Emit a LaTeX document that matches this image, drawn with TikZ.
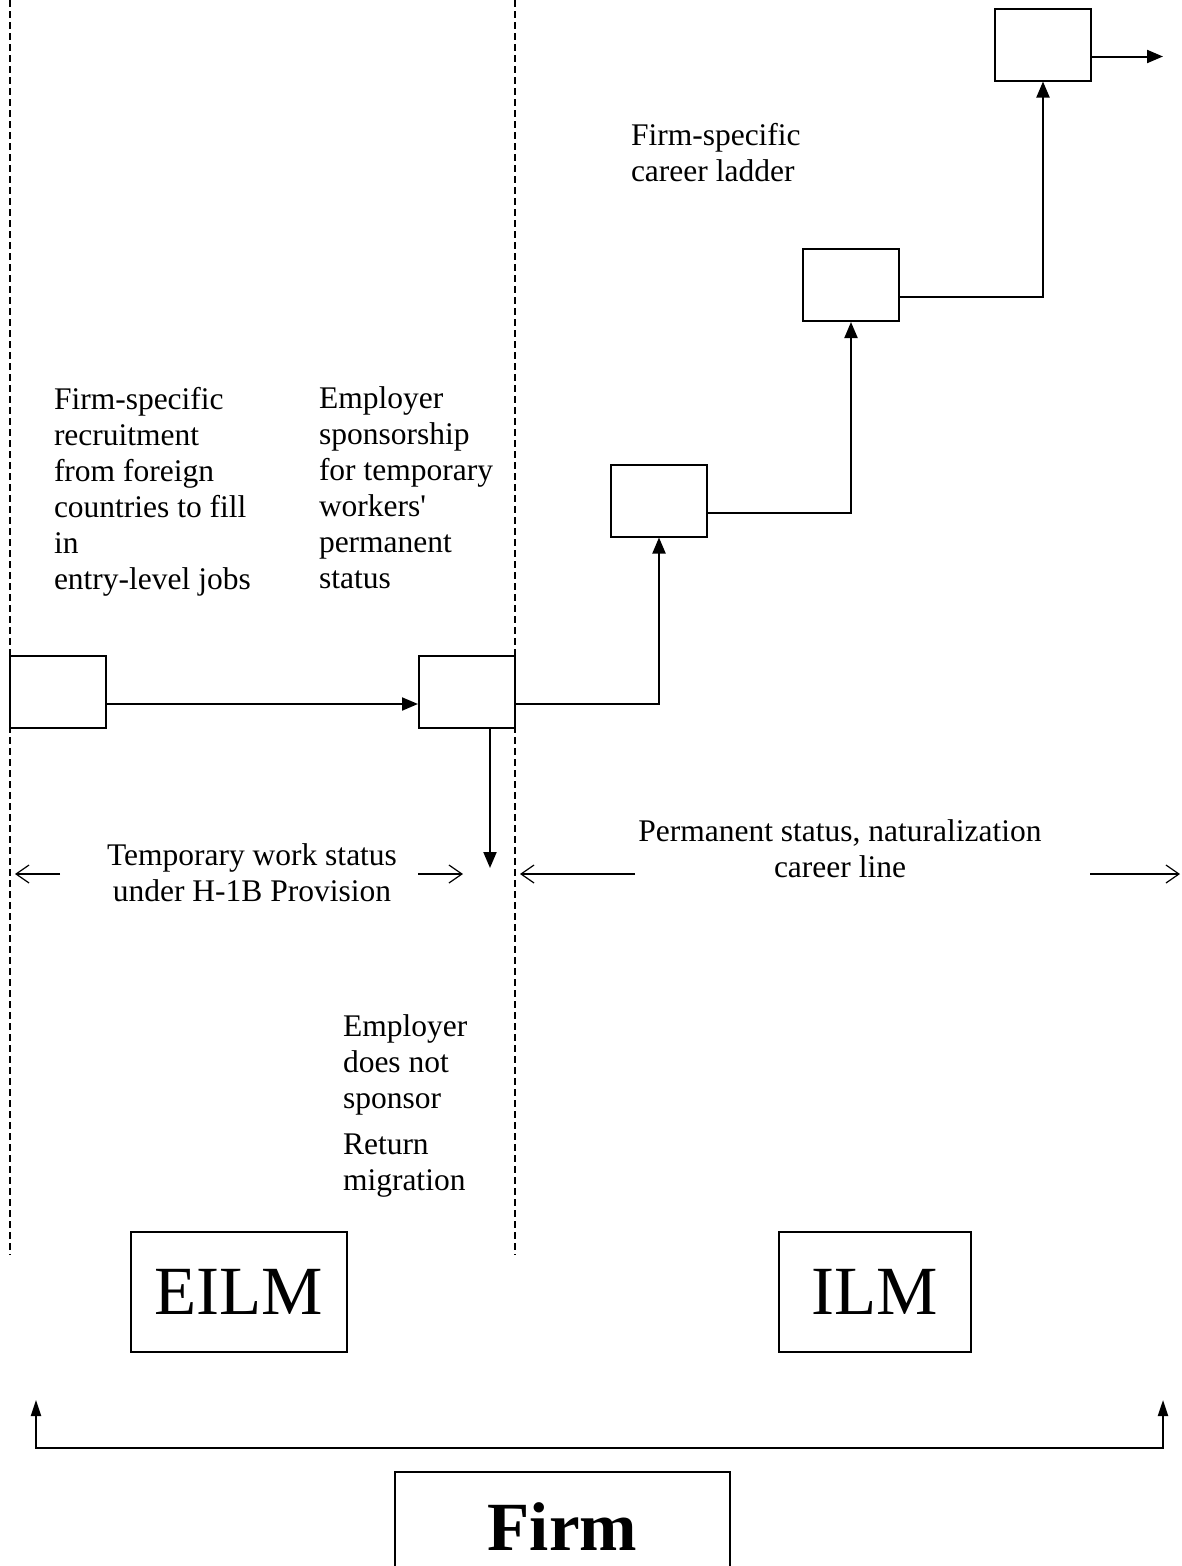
\documentclass[tikz,border=0pt]{standalone}
\usepackage{fontspec}
\setmainfont{Liberation Serif}
\usetikzlibrary{arrows.meta}
\begin{document}
\begin{tikzpicture}[x=1pt,y=-1pt,line width=2pt,
  cell/.style={draw,minimum width=96pt,minimum height=72pt,inner sep=0pt},
  lbl/.style={align=left,anchor=north west,inner sep=0pt,font=\fontsize{31.5}{36}\selectfont},
  midlbl/.style={align=center,inner sep=0pt,font=\fontsize{31.5}{36}\selectfont},
  big/.style={draw,inner sep=0pt,font=\fontsize{69}{80}\selectfont},
  fence/.style={line width=1.3pt,dash pattern=on 7pt off 4pt},
  up/.style={-{Triangle[length=16pt,width=13pt]}},
  span/.style={line width=1.2pt,-{Straight Barb[length=13pt,width=18pt]}}]
\useasboundingbox (0,0) rectangle (1182,1566);
% dividers
\draw[fence] (10,0) -- (10,1255);
\draw[fence] (515,0) -- (515,1255);
% job ladder
\node[cell] (a) at (58,692) {};
\node[cell] (b) at (467,692) {};
\node[cell] (c) at (659,500.5) {};
\node[cell] (d) at (851,285) {};
\node[cell] (e) at (1043,44.5) {};
\coordinate (eout) at (1163,56.5);
\coordinate (bdown) at (490,868);
\draw[up] ([yshift=-12pt]a.east) -- ([yshift=-12pt]b.west);
\draw[up] ([yshift=-12pt]b.east) -| (c.south);
\draw[up] ([yshift=-12pt]c.east) -| (d.south);
\draw[up] ([yshift=-12pt]d.east) -| (e.south);
\draw[up] ([yshift=-12pt]e.east) -- (eout);
\draw[up] (b.south -| bdown) -- (bdown);
% texts
\node[lbl] (recruit) at (53,386) {Firm-specific\\recruitment\\from foreign\\countries to fill\\in\\entry-level jobs};
\node[lbl] (sponsor) at (318,386) {Employer\\sponsorship\\for temporary\\workers\textquotesingle\\permanent\\status};
\node[lbl] (ladder) at (630,122) {Firm-specific\\career ladder};
\node[lbl] (nosponsor) at (342,1014) {Employer\\does not\\sponsor};
\node[lbl] (ret) at (342,1133) {Return\\migration};
\node[midlbl] (temp) at (252,873) {Temporary work status\\under H-1B Provision};
\node[midlbl] (perm) at (840,849) {Permanent status, naturalization\\career line};
\draw[span] (60,874) -- (15,874);
\draw[span] (418,874) -- (463,874);
\draw[span] (635,874) -- (520,874);
\draw[span] (1090,874) -- (1180,874);
% markets
\node[big,minimum width=216pt,minimum height=120pt] (eilm) at (239,1292) {EILM};
\node[big,minimum width=192pt,minimum height=120pt] (ilm) at (875,1292) {ILM};
\coordinate (fl) at (36,1400);
\coordinate (fr) at (1163,1400);
\draw[{Triangle[length=16pt,width=10pt]}-{Triangle[length=16pt,width=10pt]}] (fl) -- ++(0,48) -| (fr);
\node[big,minimum width=335pt,minimum height=110pt,font=\fontsize{69}{80}\selectfont\bfseries] (firm) at (562.5,1527) {Firm};
\end{tikzpicture}
\end{document}
